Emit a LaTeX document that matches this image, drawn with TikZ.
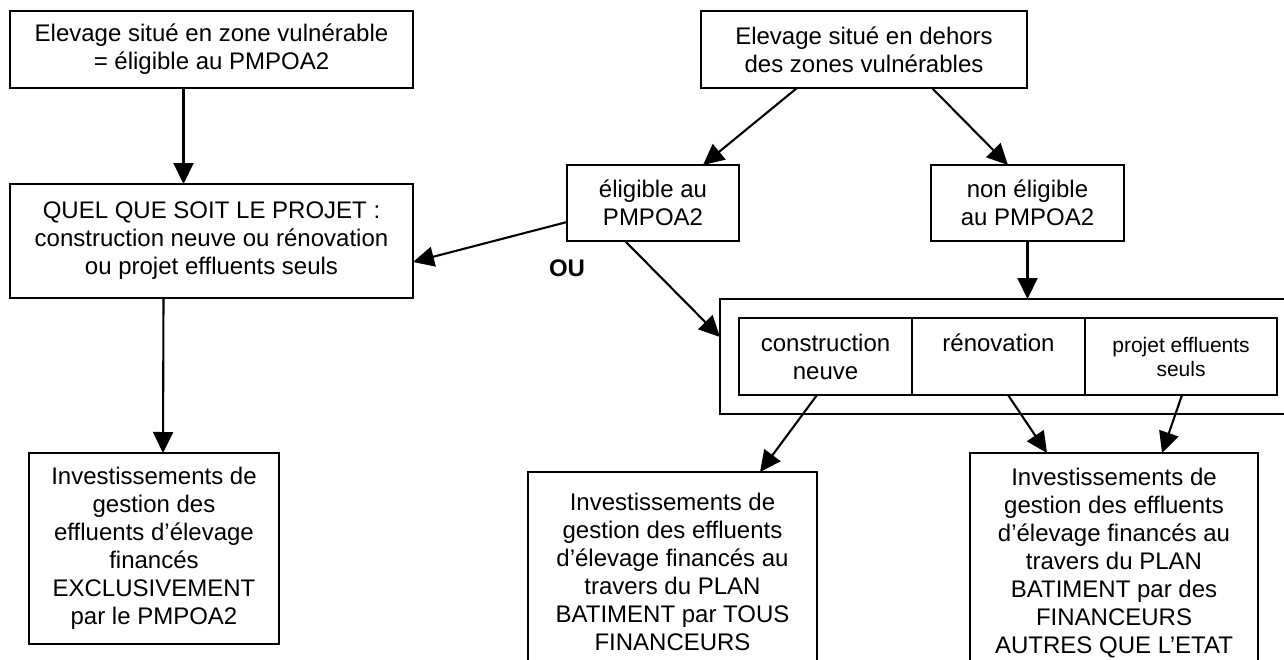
\documentclass[tikz,border=0pt]{standalone}
\usepackage{fontspec}
\setmainfont{Liberation Sans}
\usepackage{tikz}
\usetikzlibrary{arrows.meta, positioning, calc}

\begin{document}
\begin{tikzpicture}[x=1pt, y=-1pt,
    boite/.style={draw, line width=2.4pt, align=center, inner sep=0pt, outer sep=0pt,
                  font=\fontsize{24}{28}\selectfont},
    fleche/.style={line width=2.1pt, -{Triangle[length=21pt, width=20pt]}}]
  \useasboundingbox (0,0) rectangle (1284,659);

  % Cadres du haut
  \node[boite, minimum width=403, minimum height=77] (zoneVuln) at (211.5,49.5)
    {Elevage situé en zone vulnérable\\= éligible au PMPOA2};
  \node[boite, minimum width=326, minimum height=77] (horsZone) at (864,49.5)
    {Elevage situé en dehors\\des zones vulnérables};

  % Eligibilité
  \node[boite, minimum width=172, minimum height=76] (eligible) at (653,203)
    {éligible au\\PMPOA2};
  \node[boite, minimum width=193, minimum height=76] (nonEligible) at (1027.5,203)
    {non éligible\\au PMPOA2};
  \node[boite, minimum width=403, minimum height=114] (quelProjet) at (211.5,241)
    {QUEL QUE SOIT LE PROJET :\\construction neuve ou rénovation\\ou projet effluents seuls};
  \node[font=\fontsize{24}{28}\selectfont\bfseries] (ou) at (567,268.5) {OU};

  % Types de projet
  \node[boite, anchor=north west, minimum width=600, minimum height=115] (choix) at (720,299) {};
  \node[boite, anchor=north west, minimum width=173, minimum height=77] (construction) at (739,318)
    {construction\\neuve};
  \node[boite, right=0pt of construction, minimum width=173, minimum height=77] (renovation)
    {rénovation\\\mbox{}};
  \node[boite, right=0pt of renovation, minimum width=192, minimum height=77,
        font=\fontsize{21}{24}\selectfont] (effluents)
    {projet effluents\\seuls};

  % Financements
  \node[boite, minimum width=250, minimum height=191] (exclusif) at (154,548.5)
    {Investissements de\\gestion des\\effluents d’élevage\\financés\\EXCLUSIVEMENT\\par le PMPOA2};
  \node[boite, anchor=north, minimum width=289, minimum height=200] (tousFin) at (672.5,472)
    {Investissements de\\gestion des effluents\\d’élevage financés au\\travers du PLAN\\BATIMENT par TOUS\\FINANCEURS};
  \node[boite, anchor=north, minimum width=288, minimum height=220] (autresFin) at (1114,453)
    {Investissements de\\gestion des effluents\\d’élevage financés au\\travers du PLAN\\BATIMENT par des\\FINANCEURS\\AUTRES QUE L’ETAT};

  % Fleches
  \draw[fleche] ([xshift=-28]zoneVuln.south) -- ([xshift=-28]quelProjet.north);
  \draw[fleche] ([xshift=-48]quelProjet.south) -- ([xshift=9]exclusif.north);
  \draw[fleche] ([xshift=-67]horsZone.south) -- ([xshift=50]eligible.north);
  \draw[fleche] ([xshift=68]horsZone.south) -- ([xshift=-19.5]nonEligible.north);
  \draw[fleche] ([yshift=-19]eligible.west) -- ([yshift=-21]quelProjet.east);
  \draw[fleche] ([xshift=-28]eligible.south) -- ([yshift=19.5]choix.west);
  \draw[fleche] (nonEligible.south) -- (nonEligible.south |- choix.north);
  \draw[fleche] ([xshift=-8.5]construction.south) -- ([xshift=87.5]tousFin.north);
  \draw[fleche] ([xshift=9.5]renovation.south) -- ([xshift=-67]autresFin.north);
  \draw[fleche] ([xshift=1]effluents.south) -- ([xshift=48]autresFin.north);
\end{tikzpicture}
\end{document}
